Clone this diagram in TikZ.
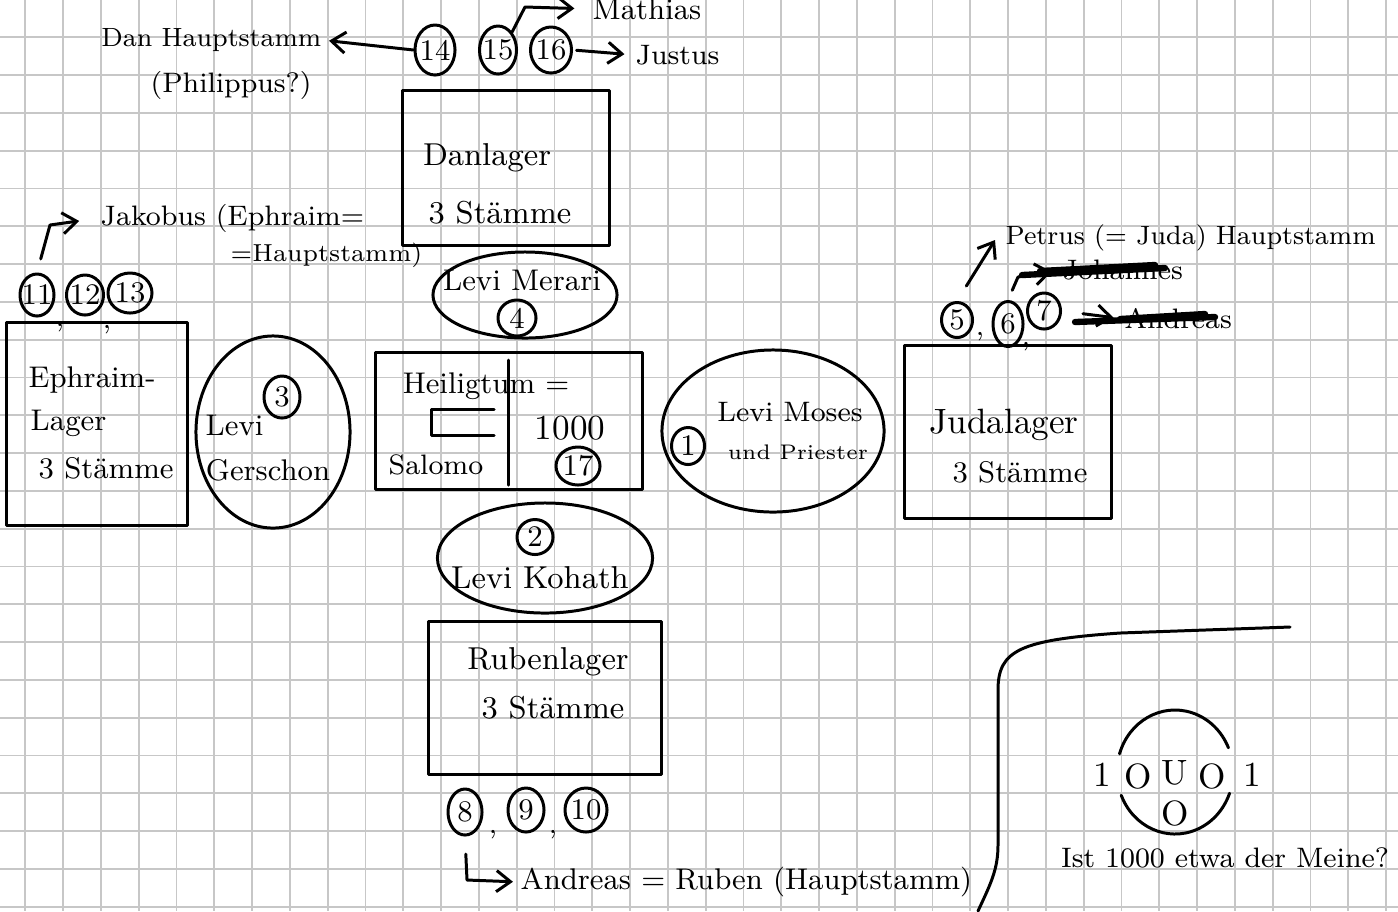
\documentclass[tikz,border=0pt]{standalone}
\usetikzlibrary{shapes.geometric,arrows.meta}
\begin{document}
\begin{tikzpicture}[x=0.01cm,y=-0.01cm,
  pen/.style={line width=0.85pt, black, line cap=round, line join=round},
  box/.style={pen, draw, rectangle, inner sep=0pt},
  oval/.style={pen, draw, ellipse, inner sep=0pt},
  numtxt/.style={inner sep=0pt, font=\fontsize{8.5}{10}\selectfont},
  num/.style={pen, draw, ellipse, inner sep=0pt, label={[numtxt]center:#1}},
  fs/.style={inner sep=0pt, font=\fontsize{#1}{#1}\selectfont},
  arr/.style={pen, -{Straight Barb[length=4pt,width=6pt]}},
  strike/.style={line width=1.8pt, black, line cap=round},
  gridline/.style={line width=0.5pt, black!22}]

% paper and grid
\fill[white] (0,0) rectangle (1398,911);
\useasboundingbox (0,0) rectangle (1398,911);
\foreach \i in {0,...,36} \draw[gridline] ({25.3+37.8*\i},0) -- ({25.3+37.8*\i},911);
\foreach \j in {1,...,24} \draw[gridline] (0,{-0.5+37.8*\j}) -- (1398,{-0.5+37.8*\j});

% Danlager
\node[num={14}, minimum width=0.40cm, minimum height=0.50cm] (c14) at (435,50) {};
\node[num={15}, minimum width=0.37cm, minimum height=0.48cm] (c15) at (498,50) {};
\node[num={16}, minimum width=0.41cm, minimum height=0.46cm] (c16) at (551,50) {};
\node[fs=7.5, anchor=east] (danH) at (322,40) {Dan Hauptstamm};
\node[fs=8, anchor=west] (phil) at (150,85) {(Philippus?)};
\node[fs=8.5, anchor=west] (mathias) at (592,9) {Mathias};
\node[fs=8, anchor=west] (justus) at (635,55) {Justus};
\coordinate (m1) at (525,7);
\draw[arr, shorten >=2pt] (c14.west) -- (danH.east);
\draw[arr, shorten >=5pt] (c15.north east) -- (m1) -- (mathias.west);
\draw[arr, shorten <=1pt, shorten >=3pt] (c16.east) -- (justus.west);

\node[box, minimum width=2.07cm, minimum height=1.55cm] (dan) at (506,168) {};
\node[fs=9] (danT1) at (487,158) {Danlager};
\node[fs=9] (danT2) at (500,213) {3 Stämme};

% Levi Merari
\node[oval, minimum width=1.84cm, minimum height=0.86cm] (merari) at (525,295) {};
\node[fs=8.5] (merariT) at (522,280) {Levi Merari};
\node[num={4}, minimum width=0.38cm, minimum height=0.36cm] (c4) at (517,318) {};

% Ephraim
\node[num={11}, minimum width=0.34cm, minimum height=0.42cm] (c11) at (37,295) {};
\node[num={12}, minimum width=0.37cm, minimum height=0.40cm] (c12) at (85,295) {};
\node[num={13}, minimum width=0.44cm, minimum height=0.40cm] (c13) at (130,293) {};
\node[fs=8] (k1) at (60,328) {,};
\node[fs=8] (k2) at (107,330) {,};
\node[fs=8, anchor=west] (jakobus) at (100,218) {Jakobus (Ephraim=};
\node[fs=7, anchor=west] (jakobus2) at (230,255) {=Hauptstamm)};
\coordinate (j1) at (50,225);
\draw[arr, shorten <=4pt, shorten >=6pt] (c11.north) -- (j1) -- (jakobus.west);

\node[box, minimum width=1.81cm, minimum height=2.03cm] (ephraim) at (97,424) {};
\node[fs=8.5, anchor=west] (ephT1) at (28,380) {Ephraim-};
\node[fs=8.5, anchor=west] (ephT2) at (30,423) {Lager};
\node[fs=8.5, anchor=west] (ephT3) at (38,468) {3 Stämme};

% Levi Gerschon
\node[oval, minimum width=1.54cm, minimum height=1.92cm] (gerschon) at (273,432) {};
\node[num={3}, minimum width=0.36cm, minimum height=0.42cm] (c3) at (282,397) {};
\node[fs=8.5, anchor=west] (gerT1) at (205,425) {Levi};
\node[fs=8.5] (gerT2) at (268,470) {Gerschon};

% Heiligtum
\node[box, minimum width=2.66cm, minimum height=1.36cm] (heil) at (509,421) {};
\draw[pen] (508,360) -- (508,485);
\draw[pen] (494,409) -- (431,409) -- (431,435) -- (494,435);
\node[fs=8.5] (heilT) at (486,386) {Heiligtum =};
\node[fs=8] (salomo) at (436,465) {Salomo};
\node[fs=10] (tausend) at (570,428) {1000};
\node[num={17}, minimum width=0.44cm, minimum height=0.38cm] (c17) at (578,466) {};

% Levi Moses
\node[oval, minimum width=2.22cm, minimum height=1.62cm] (moses) at (773,431) {};
\node[num={1}, minimum width=0.33cm, minimum height=0.37cm] (c1) at (688,446) {};
\node[fs=8] (mosesT1) at (790,412) {Levi Moses};
\node[fs=6] (mosesT2) at (798,452) {und Priester};

% Judalager
\node[num={5}, minimum width=0.31cm, minimum height=0.35cm] (c5) at (957,320) {};
\node[num={6}, minimum width=0.30cm, minimum height=0.45cm] (c6) at (1008,324) {};
\node[num={7}, minimum width=0.33cm, minimum height=0.36cm] (c7) at (1044,311) {};
\node[fs=8] (k3) at (980,337) {,};
\node[fs=8] (k4) at (1026,347) {,};
\node[fs=7.5, anchor=west] (petrus) at (1005,238) {Petrus (= Juda) Hauptstamm};
\node[fs=8, anchor=west] (johannes) at (1062,270) {Johannes};
\node[fs=8, anchor=west] (andreasX) at (1124,319) {Andreas};
\coordinate (p1) at (995,240);
\coordinate (jo1) at (1018,277);
\draw[arr, shorten <=5pt] (c5.north) -- (p1);
\draw[pen, shorten <=3pt] (c6.north) -- (jo1);
\draw[arr, shorten >=3pt] (jo1) -- (johannes.west);
\draw[arr, shorten <=6pt, shorten >=3pt] (c7.east) -- (andreasX.west);
\draw[strike] (1022,275) -- (1165,268);
\draw[strike] (1040,271) -- (1155,265);
\draw[strike] (1075,322) -- (1215,317);
\draw[strike] (1120,319) -- (1205,314);

\node[box, minimum width=2.07cm, minimum height=1.73cm] (juda) at (1008,432) {};
\node[fs=10] (judaT1) at (1004,425) {Judalager};
\node[fs=8.5] (judaT2) at (1020,472) {3 Stämme};

% Levi Kohath
\node[oval, minimum width=2.15cm, minimum height=1.10cm] (kohath) at (545,558) {};
\node[num={2}, minimum width=0.36cm, minimum height=0.35cm] (c2) at (535,537) {};
\node[fs=9] (kohathT) at (540,578) {Levi Kohath};

% Rubenlager
\node[box, minimum width=2.33cm, minimum height=1.53cm] (ruben) at (545,698) {};
\node[fs=9] (rubenT1) at (548,662) {Rubenlager};
\node[fs=9] (rubenT2) at (553,708) {3 Stämme};

\node[num={8}, minimum width=0.34cm, minimum height=0.46cm] (c8) at (465,812) {};
\node[num={9}, minimum width=0.36cm, minimum height=0.44cm] (c9) at (526,810) {};
\node[num={10}, minimum width=0.42cm, minimum height=0.44cm] (c10) at (586,810) {};
\node[fs=8] (k5) at (493,835) {,};
\node[fs=8] (k6) at (553,835) {,};
\node[fs=8.5, anchor=west] (andreasR) at (520,882) {Andreas = Ruben (Hauptstamm)};
\coordinate (a1) at (467,880);
\draw[arr, shorten <=5pt, shorten >=2pt] (c8.south) -- (a1) -- (andreasR.west);

% corner note
\draw[pen] (1290,627) -- (1120,633) .. controls (1020,640) and (998,650) .. (998,690)
  -- (998,845) .. controls (998,870) and (990,885) .. (978,911);
\draw[pen] (1119.5,753.9) arc[start angle=163, end angle=23, x radius=0.58cm, y radius=0.62cm];
\draw[pen] (1121.2,795.2) arc[start angle=202, end angle=340, x radius=0.58cm, y radius=0.62cm];
\node[fs=10] (s1) at (1102,775) {1};
\node[fs=10] (s2) at (1138,776) {O};
\node[fs=10] (s3) at (1175,773) {U};
\node[fs=10] (s4) at (1212,776) {O};
\node[fs=10] (s5) at (1252,775) {1};
\node[fs=10] (s6) at (1175,813) {O};
\node[fs=8] (frage) at (1225,858) {Ist 1000 etwa der Meine?};
\end{tikzpicture}
\end{document}
